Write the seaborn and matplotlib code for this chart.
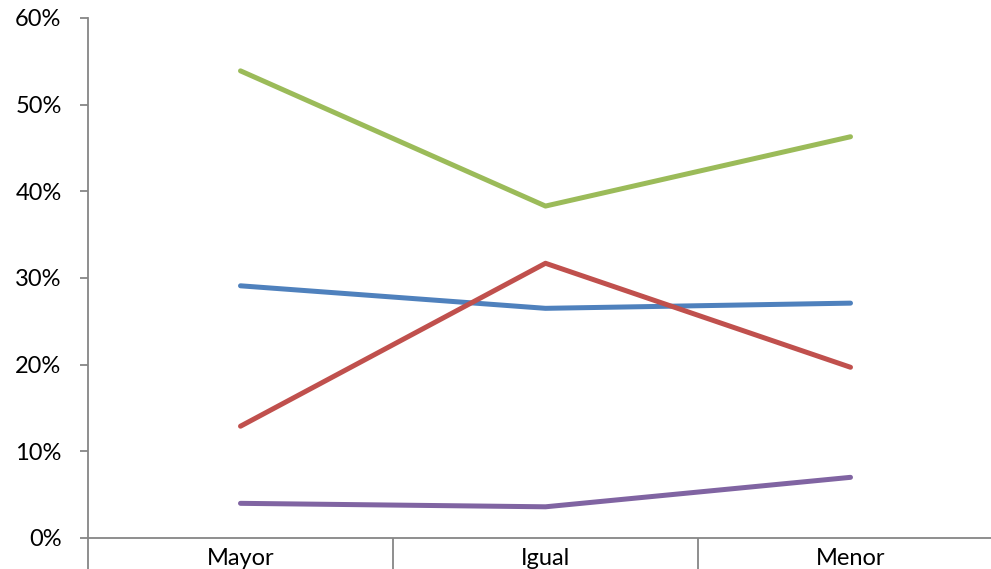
import pandas as pd
import matplotlib.pyplot as plt
import seaborn as sns
from matplotlib.ticker import FixedLocator, PercentFormatter

categories = ["Mayor", "Igual", "Menor"]
serie_azul = [29.1, 26.5, 27.1]
serie_roja = [12.9, 31.7, 19.7]
serie_verde = [53.9, 38.3, 46.3]
serie_morada = [4.0, 3.6, 7.0]

series = {"A": serie_azul, "B": serie_roja, "C": serie_verde, "D": serie_morada}
colors = ["#4F81BD", "#C0504D", "#9BBB59", "#8064A2"]


def main():
    rows = []
    for name, vals in series.items():
        for i, v in enumerate(vals):
            rows.append({"pos": i, "valor": v, "serie": name})
    df = pd.DataFrame(rows)

    sns.set_style("white")
    plt.rcParams["font.family"] = ["Lato", "DejaVu Sans"]

    fig = plt.figure(figsize=(9.91, 5.69), dpi=100)
    ax = fig.add_axes([88 / 991, 1 - 538 / 569, 915 / 991, 520 / 569])

    sns.lineplot(data=df, x="pos", y="valor", hue="serie", palette=colors,
                 linewidth=3.6, legend=False, ax=ax, solid_capstyle="round")

    ax.set_xlim(-0.5, 2.5)
    ax.set_ylim(0, 60)
    ax.set_yticks(range(0, 61, 10))
    ax.yaxis.set_major_formatter(PercentFormatter(decimals=0))
    ax.set_xticks(range(len(categories)))
    ax.set_xticklabels(categories)
    ax.xaxis.set_minor_locator(FixedLocator([-0.5, 0.5, 1.5, 2.5]))
    ax.set_xlabel("")
    ax.set_ylabel("")

    gray = "#868686"
    for side in ["top", "right"]:
        ax.spines[side].set_visible(False)
    for side in ["left", "bottom"]:
        ax.spines[side].set_color(gray)
        ax.spines[side].set_linewidth(1.3)

    ax.tick_params(axis="y", which="major", direction="out", length=6,
                   width=1.3, color=gray, pad=13, labelsize=17, left=True,
                   labelcolor="black")
    ax.tick_params(axis="x", which="major", length=0, pad=7, labelsize=17,
                   labelcolor="black")
    ax.tick_params(axis="x", which="minor", direction="out", length=30,
                   width=1.3, color=gray, bottom=True)
    ax.grid(False)

    fig.savefig("out.png", dpi=100)


if __name__ == "__main__":
    main()
